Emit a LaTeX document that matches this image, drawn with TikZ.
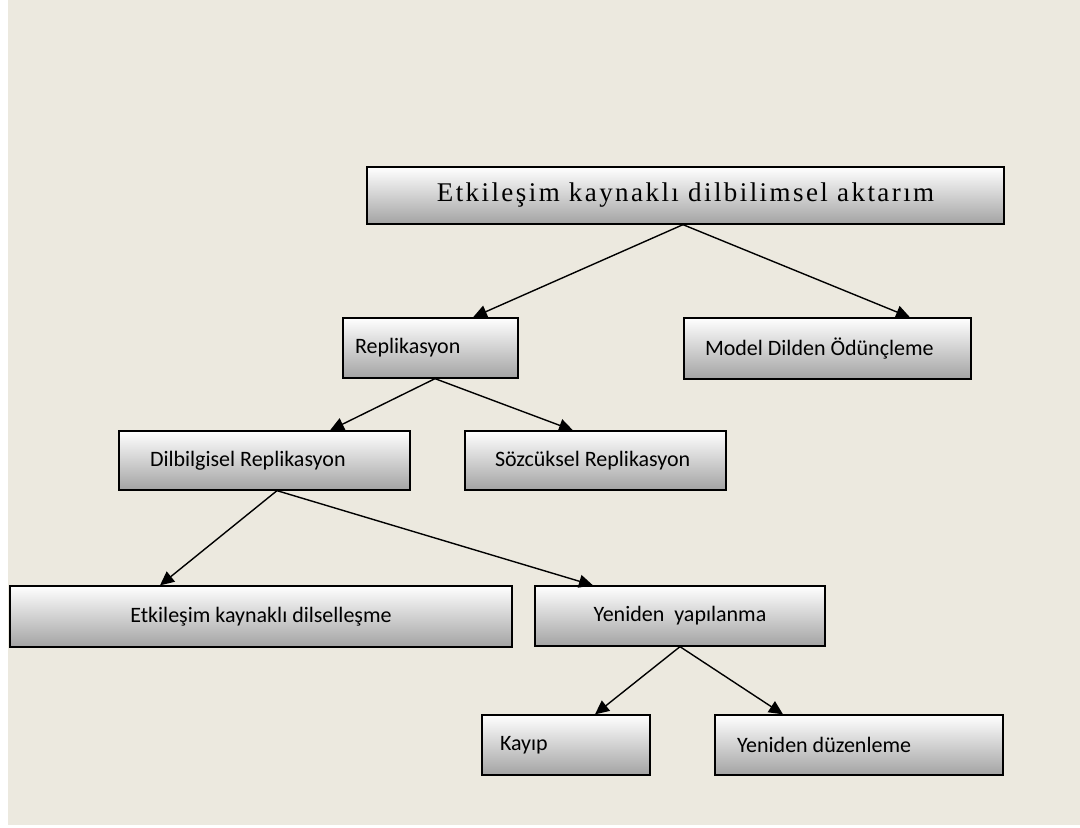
\documentclass[tikz,border=0pt]{standalone}
\usepackage{fontspec}
\setmainfont{Liberation Serif}
\newfontfamily\calfont{Carlito}
\newfontfamily\tmsfont[LetterSpace=9]{Liberation Serif}
\usetikzlibrary{arrows.meta,calc}
\definecolor{bgc}{RGB}{236,233,223}
\tikzset{
  box/.style={draw=black, line width=1.3pt, top color=white, bottom color=black!36, shading angle=0,
     rectangle, inner ysep=0pt, font=\calfont\fontsize{22}{26}\selectfont, text=black},
  lbox/.style={box, align=flush left},
  arr/.style={line width=1.4pt, -{Triangle[length=14pt,width=13pt]}}
}
\begin{document}
\begin{tikzpicture}[x=1pt,y=-1pt]
\useasboundingbox (0,0) rectangle (1080,828);
\fill[bgc] (8,0) rectangle (1080,825);
\node[box, minimum width=637pt, minimum height=57pt, font=\tmsfont\fontsize{27}{31}\selectfont] (top) at (685.5,195.5) {Etkileşim kaynaklı dilbilimsel aktarım};
\node[lbox, minimum height=60pt, text width=151pt, inner xsep=12pt] (rep) at (430.5,348) {Replikasyon};
\node[lbox, minimum height=61pt, text width=245pt, inner xsep=21pt] (model) at (827.5,348.5) {Model Dilden Ödünçleme};
\node[lbox, minimum height=59pt, text width=229pt, inner xsep=31pt] (dil) at (264.5,460.5) {Dilbilgisel Replikasyon};
\node[lbox, minimum height=59pt, text width=201pt, inner xsep=30pt] (soz) at (595.5,460.5) {Sözcüksel Replikasyon};
\node[box, minimum width=502pt, minimum height=61pt] (etk) at (261,616.5) {Etkileşim kaynaklı dilselleşme};
\node[box, minimum width=290pt, minimum height=60pt] (yen) at (680,616) {Yeniden\ \ yapılanma};
\node[lbox, minimum height=60pt, text width=132pt, inner xsep=18pt] (kay) at (566,745) {Kayıp};
\node[lbox, minimum height=60pt, text width=244pt, inner xsep=22pt] (duz) at (859,745) {Yeniden düzenleme};
\draw[arr] ([xshift=-2.5pt]top.south) -- ([xshift=42.5pt]rep.north);
\draw[arr] ([xshift=-2.5pt]top.south) -- ([xshift=82.5pt]model.north);
\draw[arr] ([xshift=4.5pt]rep.south) -- ([xshift=65.5pt]dil.north);
\draw[arr] ([xshift=4.5pt]rep.south) -- ([xshift=-22.5pt]soz.north);
\draw[arr] ([xshift=12.5pt]dil.south) -- ([xshift=-101pt]etk.north);
\draw[arr] ([xshift=12.5pt]dil.south) -- ([xshift=-87pt]yen.north);
\draw[arr] (yen.south) -- ([xshift=29pt]kay.north);
\draw[arr] (yen.south) -- ([xshift=-76pt]duz.north);
\end{tikzpicture}
\end{document}
